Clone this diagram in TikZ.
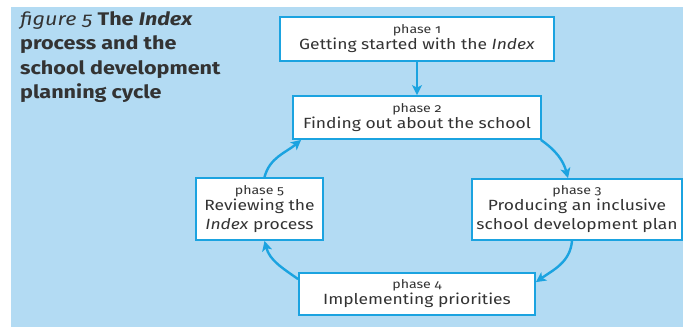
\documentclass[tikz,border=0pt]{standalone}
\usepackage{fontspec}
\setmainfont{Fira Sans}[Numbers=OldStyle, FakeStretch=1.18]
\usetikzlibrary{arrows.meta}
\definecolor{bgblue}{HTML}{B3DBF3}
\definecolor{lineblue}{HTML}{1BA3E0}
\definecolor{txt}{HTML}{333333}
\tikzset{
  phasebox/.style={draw=lineblue, line width=1.8pt, fill=white, align=center, text=txt,
    inner sep=0pt, font=\fontsize{14.8}{19}\selectfont},
  flow/.style={draw=lineblue, line width=2.4pt, -{Stealth[length=10pt,width=10pt,inset=2.5pt]}},
}
\newcommand{\phs}[1]{{\fontsize{12}{13}\selectfont phase #1}\\[-3pt]}
\begin{document}
\begin{tikzpicture}[x=1pt,y=1pt]
\useasboundingbox (0,0) rectangle (683,327);
\fill[bgblue] (11,0) rectangle (683,320);
\node[anchor=north west, align=left, text=txt, font=\fontsize{18.3}{24.5}\selectfont\bfseries, inner sep=0pt] (title) at (20,316)
  {{\mdseries\itshape figure 5} The \textit{Index}\\process and the\\school development\\planning cycle};
\node[phasebox, minimum width=274, minimum height=44] (p1) at (417,288) {\phs{1}Getting started with the \textit{Index}};
\node[phasebox, minimum width=248, minimum height=43] (p2) at (417,209.5) {\phs{2}Finding out about the school};
\node[phasebox, minimum width=210, minimum height=61] (p3) at (577,117.5) {\phs{3}Producing an inclusive\\school development plan};
\node[phasebox, minimum width=236, minimum height=42] (p4) at (417,33) {\phs{4}Implementing priorities};
\node[phasebox, minimum width=127, minimum height=62] (p5) at (259.5,118) {\phs{5}Reviewing the\\\textit{Index} process};
\draw[flow] (p1.south) -- (p2.north);
\draw[flow] ([xshift=-1]p2.south east) to[out=-35,in=105] ([xshift=-9]p3.north);
\draw[flow] ([xshift=-5]p3.south) to[out=-95,in=35] ([yshift=-10]p4.north east);
\draw[flow] ([yshift=-7]p4.north west) to[out=145,in=-75] ([xshift=5]p5.south);
\draw[flow] ([xshift=5]p5.north) to[out=75,in=-140] ([xshift=9]p2.south west);
\end{tikzpicture}
\end{document}
